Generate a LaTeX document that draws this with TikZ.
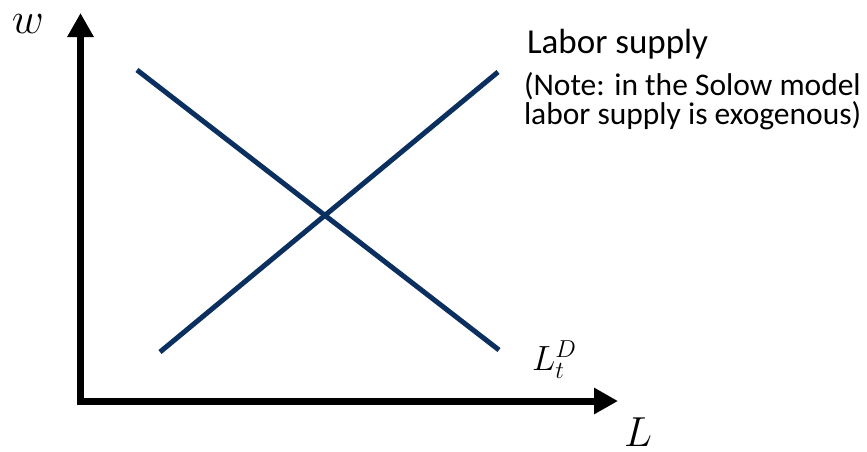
\RequirePackage{fix-cm}
\documentclass[tikz,border=0pt]{standalone}
\usepackage{fontspec}
\setmainfont{Carlito}
\usetikzlibrary{arrows.meta}
\definecolor{navy}{RGB}{11,47,94}
\tikzset{
  axis/.style={line width=7pt,-{Triangle[length=24pt,width=25pt]}},
  curve/.style={line width=5pt,navy},
  lbl/.style={anchor=base west,inner sep=0pt,outer sep=0pt},
}
\begin{document}
\begin{tikzpicture}[x=1pt,y=-1pt]
\useasboundingbox (0,0) rectangle (867,451);
% axes
\coordinate (vbot) at (80.5,405);
\coordinate (vtip) at (80.5,13);
\coordinate (hbot) at (77,401);
\coordinate (htip) at (618,401);
\draw[axis] (vbot) -- (vtip);
\draw[axis] (hbot) -- (htip);
% curves
\coordinate (s1) at (160,352);
\coordinate (s2) at (498,72);
\coordinate (d1) at (137,70);
\coordinate (d2) at (499,350);
\draw[curve] (s1) -- (s2);
\draw[curve] (d1) -- (d2);
% labels
\node[lbl] (wl) at (12,33) {\fontsize{44}{44}\selectfont$w$};
\node[lbl] (ll) at (624,446) {\fontsize{42}{42}\selectfont$L$};
\node[lbl] (ld) at (532,370) {\fontsize{35}{35}\selectfont$L_t^D$};
\node[lbl] (ls) at (527,53) {\fontsize{35}{35}\selectfont Labor supply};
\node[lbl] (n1) at (524,95) {\fontsize{31.5}{31.5}\selectfont (Note: in the Solow model};
\node[lbl] (n2) at (524,124) {\fontsize{31.5}{31.5}\selectfont labor supply is exogenous)};
\end{tikzpicture}
\end{document}
